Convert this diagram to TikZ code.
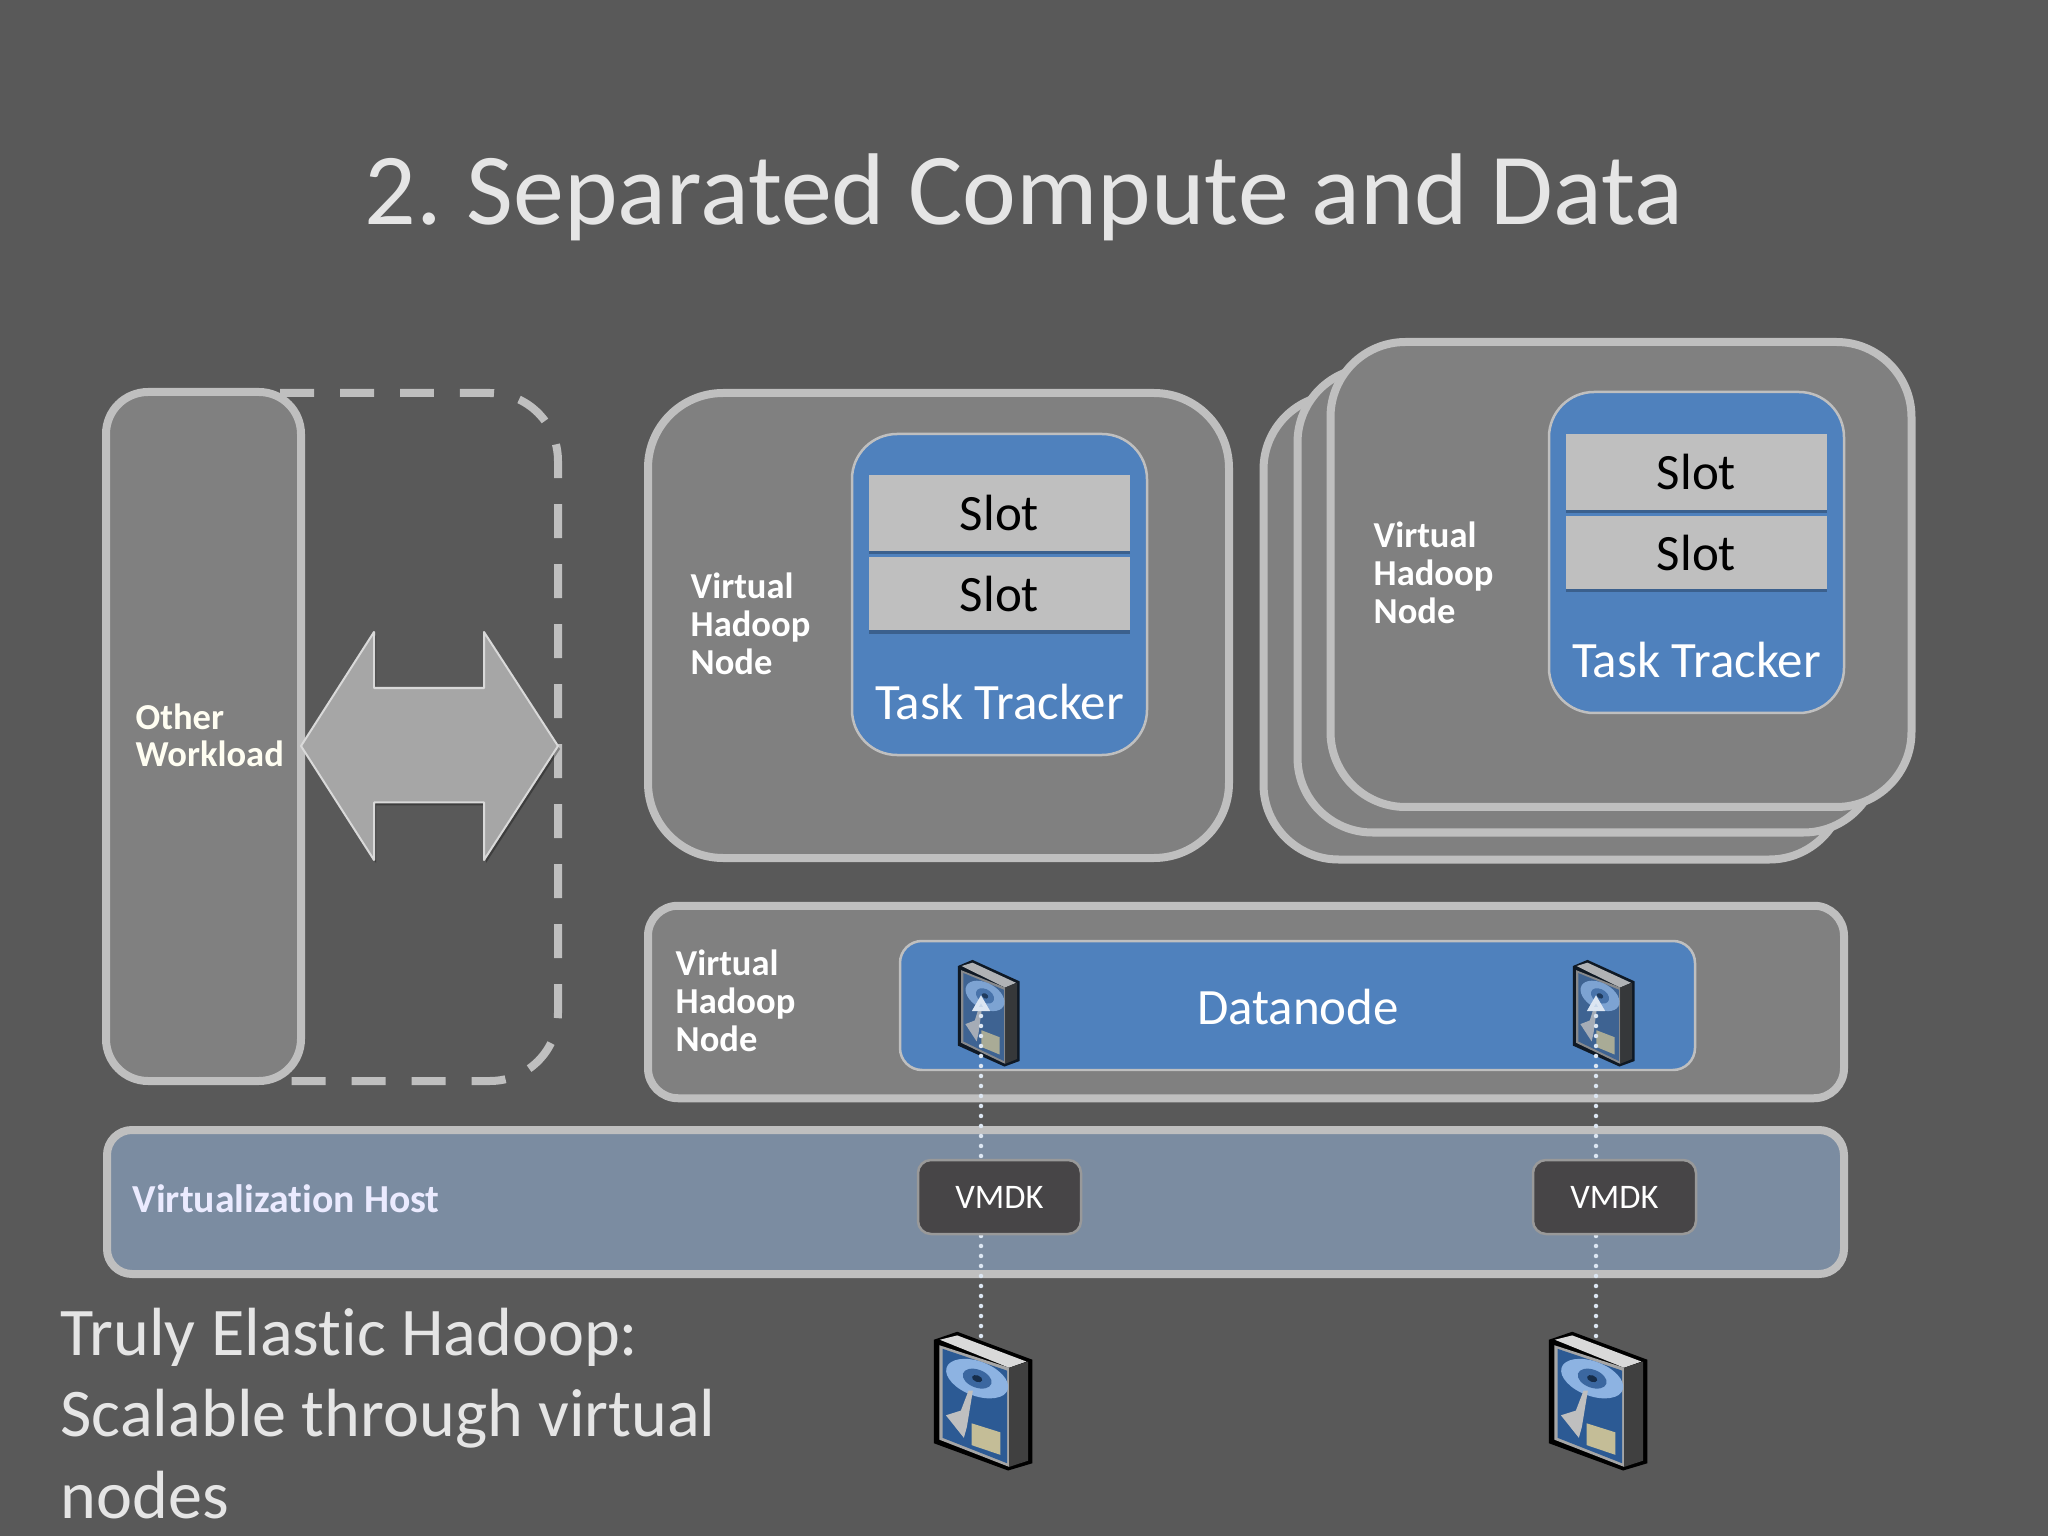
\documentclass[tikz,border=0pt]{standalone}
\usepackage{fontspec}
\setmainfont{Carlito}[RawFeature=-liga]
\usetikzlibrary{arrows.meta,shadows}
\definecolor{slidebg}{HTML}{595959}
\definecolor{boxfill}{HTML}{808080}
\definecolor{boxline}{HTML}{BFBFBF}
\definecolor{trackerblue}{HTML}{4F81BD}
\definecolor{hostblue}{HTML}{7B8CA1}
\definecolor{slotgrey}{HTML}{BFBFBF}
\definecolor{vmdkfill}{HTML}{474547}
\definecolor{dotblue}{HTML}{DCE6F2}
\definecolor{diskblue}{HTML}{2C5A94}
\definecolor{diskpale}{HTML}{8DB3E2}
\definecolor{diskchip}{HTML}{C4BD97}
\tikzset{
  outerbox/.style={draw=boxline, fill=boxfill, line width=0.08cm, inner sep=0pt},
  tracker/.style={draw=boxline, fill=trackerblue, line width=0.025cm, inner sep=0pt},
  slot/.style={fill=slotgrey, text=black, inner sep=0pt, minimum width=2.61cm, font=\fontsize{14.5}{16}\selectfont,
    drop shadow={shadow xshift=0cm, shadow yshift=-0.035cm, opacity=0.25, fill=black}},
  whitetext/.style={text=white, font=\fontsize{14.5}{16}\selectfont, inner sep=0pt},
  vhntext/.style={text=white, anchor=west, align=left, inner sep=0pt, font=\bfseries\fontsize{10.4}{10.9}\selectfont},
  vmdk/.style={draw=boxline!80!black, fill=vmdkfill, text=white, rounded corners=0.13cm, line width=0.025cm, inner sep=0pt,
    minimum width=1.63cm, minimum height=0.74cm, font=\fontsize{9.8}{11}\selectfont},
  dotlink/.style={dotblue, line width=0.045cm, line cap=round, dash pattern=on 0pt off 0.1cm,
    -{Triangle[length=0.16cm,width=0.17cm,fill=dotblue!85!trackerblue]}}
}
% x, y, xscale, yscale, opacity
\newcommand{\hdisk}[5]{
  \begin{scope}[shift={(#1,#2)},xscale=#3/300,yscale=#4/275,fill opacity=#5]
    \fill[black] (-149,-170) -- (-79,-192) -- (147,-115) -- (147,170) -- (74,190) -- (-149,115) -- cycle;
    \fill[gray!70] (-133,-155) -- (77,-93) -- (77,180) -- (-133,105) -- cycle;
    \fill[diskblue] (-123,-145) -- (71,-85) -- (71,170) -- (-123,100) -- cycle;
    \fill[black!15] (-131,-170) -- (-79,-182) -- (129,-110) -- (77,-93) -- cycle;
    \fill[black!75] (77,-93) -- (134,-110) -- (134,163) -- (77,180) -- cycle;
    \fill[diskpale, rotate around={-18:(-19,-63)}] (-19,-63) ellipse (97 and 48);
    \fill[diskblue!85!diskpale, rotate around={-18:(-19,-63)}] (-19,-63) ellipse (45 and 25);
    \fill[black!50!diskblue, rotate around={-18:(-19,-63)}] (-19,-63) ellipse (16 and 9);
    \fill[black!25] (-32,-30) -- (-50,70) -- (-59,100) -- (-113,38) -- (-68,25) -- (-45,-30) -- cycle;
    \fill[diskchip] (-36,60) -- (51,85) -- (51,147) -- (-36,120) -- cycle;
  \end{scope}
}
\begin{document}
\begin{tikzpicture}[y=-1cm]
    \useasboundingbox (0,0) rectangle (20.48,15.36);
    \fill[slidebg] (0,0) rectangle (20.48,15.36);

    \node[text=white!90!black, font=\fontsize{29}{36}\selectfont, inner sep=0pt] (title) at (10.24,1.97) {2.\hspace{-0.06em} Separated Compute and Data};

    % other workload side
    \draw[boxline, line width=0.08cm, dash pattern=on 0.34cm off 0.26cm, rounded corners=0.68cm]
        (2.80,3.93) -- (5.58,3.93) -- (5.58,10.81) -- (2.80,10.81);
    \node[outerbox, rounded corners=0.42cm, minimum width=1.95cm, minimum height=6.89cm] (other) at (2.035,7.365) {};
    \node[text=white!95!yellow, anchor=west, align=left, inner sep=0pt, font=\bfseries\fontsize{10.4}{10.5}\selectfont] (otherlabel) at (1.35,7.35) {Other\\Workload};
    \draw[draw=white!85!black, fill=black!35, line width=0.02cm, line join=round,
        drop shadow={shadow xshift=0.02cm, shadow yshift=-0.03cm, opacity=0.3, fill=black}]
        (3.01,7.46) -- (3.74,6.32) -- (3.74,6.88) -- (4.84,6.88) -- (4.84,6.32)
        -- (5.58,7.46) -- (4.84,8.60) -- (4.84,8.025) -- (3.74,8.025) -- (3.74,8.60) -- cycle;

    % single compute node
    \node[outerbox, rounded corners=0.75cm, minimum width=5.81cm, minimum height=4.65cm] (vhnA) at (9.385,6.255) {};
    \node[vhntext] (vhnAlabel) at (6.90,6.24) {Virtual\\Hadoop\\Node};
    \node[tracker, rounded corners=0.45cm, minimum width=2.95cm, minimum height=3.21cm] (trackerA) at (9.995,5.945) {};
    \node[slot, minimum height=0.76cm] (slotAa) at (9.995,5.13) {Slot};
    \node[slot, minimum height=0.73cm] (slotAb) at (9.995,5.94) {Slot};
    \node[whitetext] (trackerAlabel) at (9.995,7.02) {Task Tracker};

    % stack of compute nodes
    \node[outerbox, rounded corners=0.75cm, minimum width=5.81cm, minimum height=4.65cm] (vhnC) at (15.54,6.27) {};
    \node[outerbox, rounded corners=0.75cm, minimum width=5.81cm, minimum height=4.65cm] (vhnD) at (15.88,6.0) {};
    \node[outerbox, rounded corners=0.75cm, minimum width=5.81cm, minimum height=4.65cm] (vhnB) at (16.21,5.745) {};
    \node[vhntext] (vhnBlabel) at (13.73,5.73) {Virtual\\Hadoop\\Node};
    \node[tracker, rounded corners=0.45cm, minimum width=2.95cm, minimum height=3.21cm] (trackerB) at (16.965,5.525) {};
    \node[slot, minimum height=0.76cm] (slotBa) at (16.965,4.72) {Slot};
    \node[slot, minimum height=0.73cm] (slotBb) at (16.965,5.525) {Slot};
    \node[whitetext] (trackerBlabel) at (16.965,6.60) {Task Tracker};

    % data node
    \node[outerbox, rounded corners=0.30cm, minimum width=11.96cm, minimum height=1.925cm] (vhnData) at (12.46,10.02) {};
    \node[vhntext] (vhnDatalabel) at (6.75,10.01) {Virtual\\Hadoop\\Node};
    \node[tracker, rounded corners=0.22cm, minimum width=7.95cm, minimum height=1.29cm] (datanode) at (12.975,10.055) {};
    \node[whitetext] (datalabel) at (12.98,10.07) {Datanode};

    % host
    \node[outerbox, fill=hostblue, rounded corners=0.25cm, minimum width=17.37cm, minimum height=1.44cm] (host) at (9.755,12.02) {};
    \node[text=white!92!blue, anchor=west, inner sep=0pt, font=\bfseries\fontsize{11.3}{12}\selectfont] (hostlabel) at (1.32,11.99) {Virtualization Host};

    \hdisk{9.89}{10.135}{0.63}{0.77}{0.8}
    \hdisk{16.04}{10.135}{0.63}{0.77}{0.8}
    \coordinate (diskA) at (9.81,13.36);
    \coordinate (diskB) at (15.96,13.36);
    \coordinate (tipA) at (9.81,9.95);
    \coordinate (tipB) at (15.96,9.95);
    \draw[dotlink] (diskA) -- (tipA);
    \draw[dotlink] (diskB) -- (tipB);

    \node[vmdk] (vmdkA) at (9.995,11.97) {VMDK};
    \node[vmdk] (vmdkB) at (16.145,11.97) {VMDK};

    \hdisk{9.835}{14.015}{1}{1}{1}
    \hdisk{15.985}{14.015}{1}{1}{1}

    \node[text=white!90!black, anchor=north west, align=left, inner sep=0pt, font=\fontsize{19.4}{23.3}\selectfont] (note) at (0.6,13.07)
        {Truly Elastic Hadoop:\\Scalable through virtual\\nodes};
\end{tikzpicture}
\end{document}
